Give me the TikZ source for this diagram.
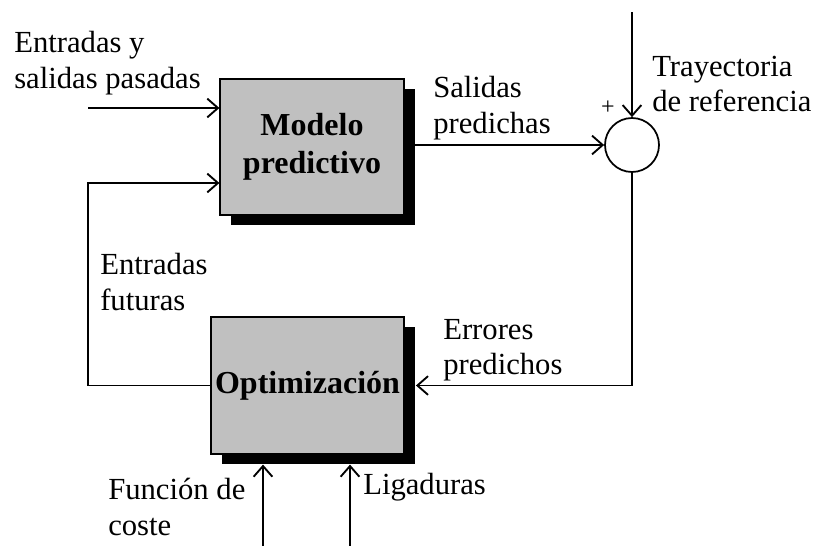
\documentclass[tikz,border=0pt]{standalone}
\usepackage{fontspec}
\setmainfont{Liberation Serif}
\usetikzlibrary{arrows.meta, positioning, shadows}
\definecolor{blkfill}{HTML}{C0C0C0}
\tikzset{
  blk/.style   = {rectangle, draw=black, fill=blkfill, line width=0.9pt,
                  align=center, font=\fontsize{24}{28.5}\selectfont\bfseries, inner sep=0pt,
                  drop shadow={fill=black, opacity=1, shadow xshift=8.5pt, shadow yshift=-7.5pt}},
  sumblk/.style= {circle, draw=black, line width=1.3pt, minimum size=40.5pt, inner sep=0pt},
  lbl/.style   = {font=\fontsize{23}{26.5}\selectfont, align=left, inner sep=0pt, anchor=west},
  flow/.style  = {-{Straight Barb[length=8pt, width=14pt]}, line width=1.4pt},
}
\begin{document}
\begin{tikzpicture}[x=0.75pt, y=-0.75pt]
  \useasboundingbox (0,0) rectangle (814,546);

  % blocks
  \node[blk, minimum width=138pt, minimum height=102pt] (model) at (312,147)
    {Modelo\\predictivo};
  \node[blk, minimum width=144.75pt, minimum height=102.75pt] (optim) at (307.5,385.5)
    {Optimizaci\'on};
  \node[sumblk] (sum) at (632,145) {};

  % free ends
  \coordinate (ref) at (632,12);
  \coordinate (past) at (88,108);
  \coordinate (fb) at (88,183);
  \coordinate (cost) at (263,546);
  \coordinate (cons) at (350,546);

  % connectors
  \draw[flow] (ref) -- (sum.north);
  \draw[flow] (model.east |- sum.west) -- (sum.west);
  \draw[flow] (sum.south) |- ([xshift=8.5pt]optim.east);
  \draw[flow] (past) -- (model.west |- past);
  \draw[flow] (optim.west) -| (fb) -- (model.west |- fb);
  \draw[flow] (cost) -- ([yshift=-7.5pt]optim.south -| cost);
  \draw[flow] (cons) -- ([yshift=-7.5pt]optim.south -| cons);

  % labels
  \node[lbl] (lpast) at (14,63) {Entradas y\\salidas pasadas};
  \node[lbl] (lout) at (433,108) {Salidas\\predichas};
  \node[lbl] (lref) at (652,84) {Trayectoria\\de referencia};
  \node[font=\fontsize{18}{20}\selectfont, inner sep=0pt] (plus) at (608,108) {+};
  \node[lbl] (lfut) at (100,282) {Entradas\\futuras};
  \node[lbl] (lerr) at (443,350) {Errores\\predichos};
  \node[lbl] (lcost) at (108,507) {Funci\'on de\\coste};
  \node[lbl] (lcons) at (363,487) {Ligaduras};
\end{tikzpicture}
\end{document}
